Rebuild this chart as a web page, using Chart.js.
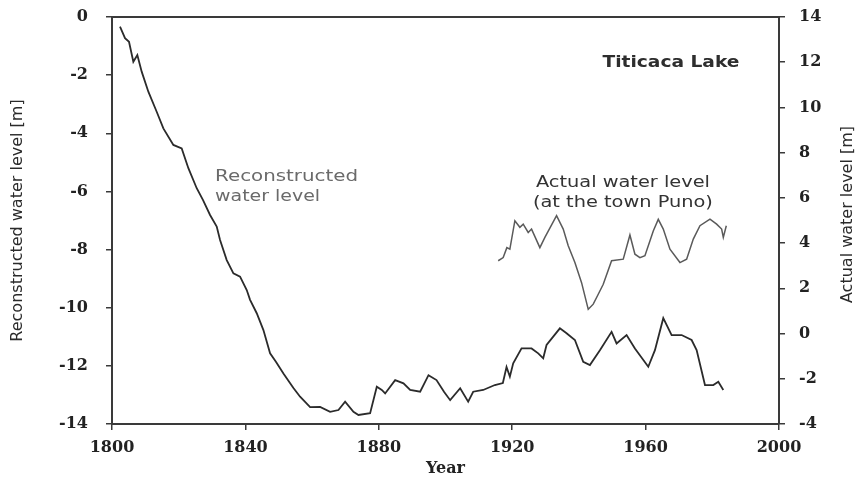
<!DOCTYPE html>
<html>
<head>
<meta charset="utf-8">
<script src="https://cdn.jsdelivr.net/npm/chart.js@4/dist/chart.umd.min.js"></script>
<style>
  html, body { margin: 0; padding: 0; background: #ffffff; }
  canvas { display: block; }
</style>
</head>
<body>
<canvas id="c" width="856" height="477"></canvas>
<script>
// ---- Data ----
const reconstructedYears = [
  1802.4, 1803.9, 1805.1, 1806.4, 1807.6, 1808.9, 1810.9, 1813.4, 1815.4, 1818.4,
  1820.9, 1822.9, 1825.4, 1827.3, 1829.4, 1831.4, 1832.4, 1834.4, 1836.4, 1838.4,
  1840.4, 1841.4, 1843.4, 1845.4, 1847.4, 1849.2, 1851.4, 1854.4, 1856.4, 1859.4,
  1862.4, 1865.4, 1867.9, 1869.9, 1872.4, 1873.9, 1877.4, 1879.4, 1880.9, 1881.9,
  1884.9, 1887.4, 1889.4, 1892.4, 1894.9, 1897.3, 1899.6, 1901.4, 1904.4, 1906.8,
  1908.3, 1911.3, 1914.8, 1917.2, 1918.3, 1919.3, 1920.3, 1922.8, 1925.8, 1927.8,
  1929.3, 1930.3, 1934.3, 1936.3, 1938.8, 1941.3, 1943.3, 1946.3, 1949.8, 1951.3,
  1954.3, 1956.8, 1960.8, 1962.8, 1965.3, 1967.8, 1970.8, 1973.8, 1975.3, 1977.8,
  1980.3, 1981.8, 1983.3
];
const reconstructedLevel = [
  -0.33, -0.73, -0.85, -1.54, -1.31, -1.88, -2.57, -3.26, -3.83, -4.40,
  -4.52, -5.20, -5.89, -6.30, -6.81, -7.21, -7.67, -8.36, -8.82, -8.93,
  -9.39, -9.73, -10.19, -10.77, -11.57, -11.87, -12.26, -12.76, -13.06, -13.42,
  -13.41, -13.58, -13.52, -13.23, -13.58, -13.69, -13.63, -12.72, -12.83, -12.95,
  -12.49, -12.60, -12.83, -12.89, -12.32, -12.49, -12.90, -13.18, -12.77, -13.23,
  -12.89, -12.83, -12.66, -12.59, -12.04, -12.37, -11.91, -11.40, -11.40, -11.57,
  -11.74, -11.28, -10.71, -10.88, -11.11, -11.86, -11.97, -11.46, -10.83, -11.23,
  -10.94, -11.40, -12.03, -11.46, -10.36, -10.94, -10.94, -11.11, -11.46, -12.66,
  -12.66, -12.55, -12.83
];
const actualYears = [
  1915.8, 1917.3, 1918.4, 1919.3, 1920.8, 1922.3, 1923.3, 1924.8, 1925.8, 1928.3,
  1929.8, 1933.3, 1935.3, 1936.8, 1938.8, 1940.8, 1942.8, 1944.3, 1945.8, 1947.3,
  1949.8, 1953.3, 1955.3, 1956.8, 1958.3, 1959.8, 1962.3, 1963.8, 1965.3, 1967.3,
  1970.3, 1972.3, 1974.3, 1976.3, 1979.3, 1981.3, 1982.8, 1983.3, 1984.2
];
const actualLevel = [
  3.22, 3.36, 3.80, 3.73, 4.99, 4.70, 4.84, 4.47, 4.62, 3.80,
  4.25, 5.21, 4.62, 3.88, 3.14, 2.25, 1.07, 1.30, 1.74, 2.18,
  3.22, 3.29, 4.36, 3.51, 3.36, 3.44, 4.54, 5.05, 4.62, 3.73,
  3.14, 3.29, 4.18, 4.77, 5.06, 4.84, 4.62, 4.25, 4.77
];
const xTicks = [1800, 1840, 1880, 1920, 1960, 2000];
const leftTicks = [0, -2, -4, -6, -8, -10, -12, -14];
const rightTicks = [14, 12, 10, 8, 6, 4, 2, 0, -2, -4];

const leftTitle = 'Reconstructed water level [m]';
const rightTitle = 'Actual water level [m]';
const xTitle = 'Year';
const plotLabel = 'Titicaca Lake';
const reconLabel = ['Reconstructed', 'water level'];
const actualLabel = ['Actual water level', '(at the town Puno)'];

// ---- Styles ----
const axisColor = '#3a3a3a';
const tickFont = { family: 'DejaVu Serif', size: 16, weight: 'bold' };
const tickColor = '#222222';

const reconPoints = reconstructedYears.map((x, i) => ({ x, y: reconstructedLevel[i] }));
const actualPoints = actualYears.map((x, i) => ({ x, y: actualLevel[i] }));

function stretchedText(ctx, text, x, y, align, targetWidth) {
  const w = ctx.measureText(text).width;
  const sx = targetWidth ? targetWidth / w : 1;
  ctx.save();
  ctx.translate(x, y);
  ctx.scale(sx, 1);
  ctx.textAlign = align;
  ctx.textBaseline = 'middle';
  ctx.fillText(text, 0, 0);
  ctx.restore();
}

const decorPlugin = {
  id: 'decor',
  afterDraw(chart) {
    const { ctx, chartArea, scales } = chart;
    const x = scales.x, y = scales.y;
    ctx.save();
    // top frame line
    ctx.strokeStyle = axisColor;
    ctx.lineWidth = 2;
    ctx.beginPath();
    ctx.moveTo(chartArea.left, chartArea.top);
    ctx.lineTo(chartArea.right, chartArea.top);
    ctx.stroke();

    // In-plot labels (positioned in data coordinates)
    ctx.fillStyle = '#2e2e2e';
    ctx.font = 'bold 16px "DejaVu Sans"';
    stretchedText(ctx, plotLabel, x.getPixelForValue(1967.6), y.getPixelForValue(-1.58), 'center', 137);

    ctx.fillStyle = '#6a6a6a';
    ctx.font = '16px "DejaVu Sans"';
    stretchedText(ctx, reconLabel[0], x.getPixelForValue(1830.9), y.getPixelForValue(-5.50), 'left', 143);
    stretchedText(ctx, reconLabel[1], x.getPixelForValue(1830.9), y.getPixelForValue(-6.19), 'left', 105);

    ctx.fillStyle = '#333333';
    stretchedText(ctx, actualLabel[0], x.getPixelForValue(1953.2), y.getPixelForValue(-5.71), 'center', 174);
    stretchedText(ctx, actualLabel[1], x.getPixelForValue(1953.2), y.getPixelForValue(-6.40), 'center', 180);

    // Axis titles (both read bottom-to-top)
    const midY = (chartArea.top + chartArea.bottom) / 2;
    ctx.fillStyle = '#2a2a2a';
    ctx.font = '16px "DejaVu Sans"';
    ctx.textAlign = 'center';
    ctx.textBaseline = 'middle';
    ctx.save();
    ctx.translate(18, midY);
    ctx.rotate(-Math.PI / 2);
    ctx.fillText(leftTitle, 0, 0);
    ctx.restore();
    ctx.save();
    ctx.translate(chart.width - 8, midY - 6);
    ctx.rotate(-Math.PI / 2);
    ctx.fillText(rightTitle, 0, 0);
    ctx.restore();
    ctx.restore();
  }
};

const commonGrid = {
  display: true,
  drawOnChartArea: false,
  drawTicks: true,
  tickLength: 6,
  color: axisColor,
  lineWidth: 1.5
};
const commonBorder = { display: true, color: axisColor, width: 2 };

new Chart(document.getElementById('c'), {
  type: 'line',
  data: {
    datasets: [
      {
        label: 'Reconstructed water level',
        data: reconPoints,
        yAxisID: 'y',
        borderColor: '#2b2b2b',
        borderWidth: 1.8,
        pointRadius: 0,
        tension: 0,
        fill: false
      },
      {
        label: 'Actual water level (at the town Puno)',
        data: actualPoints,
        yAxisID: 'y2',
        borderColor: '#5a5a5a',
        borderWidth: 1.5,
        pointRadius: 0,
        tension: 0,
        fill: false
      }
    ]
  },
  options: {
    responsive: false,
    animation: false,
    layout: { padding: { top: 17, left: 0, right: 0, bottom: 0 } },
    plugins: { legend: { display: false }, tooltip: { enabled: false } },
    scales: {
      x: {
        type: 'linear',
        min: xTicks[0],
        max: xTicks[xTicks.length - 1],
        afterBuildTicks: s => { s.ticks = xTicks.map(v => ({ value: v })); },
        ticks: { font: tickFont, color: tickColor, padding: 8, maxRotation: 0, callback: v => String(v) },
        grid: commonGrid,
        border: commonBorder,
        title: {
          display: true, text: xTitle, color: tickColor,
          font: { family: 'DejaVu Serif', size: 16, weight: 'bold', lineHeight: 1 },
          padding: { top: 0, bottom: 0 }
        },
        afterFit: s => { s.height = 53; s.paddingLeft = 0; s.paddingRight = 0; }
      },
      y: {
        position: 'left',
        min: -14,
        max: 0,
        afterBuildTicks: s => { s.ticks = leftTicks.map(v => ({ value: v })); },
        ticks: { font: tickFont, color: tickColor, padding: 18, callback: v => String(v) },
        grid: commonGrid,
        border: commonBorder,
        afterFit: s => { s.width = 112; s.paddingTop = 0; s.paddingBottom = 0; }
      },
      y2: {
        position: 'right',
        min: -4,
        max: 14,
        afterBuildTicks: s => { s.ticks = rightTicks.map(v => ({ value: v })); },
        ticks: { font: tickFont, color: tickColor, padding: 14, callback: v => String(v) },
        grid: commonGrid,
        border: commonBorder,
        afterFit: s => { s.width = 77; s.paddingTop = 0; s.paddingBottom = 0; }
      }
    }
  },
  plugins: [decorPlugin]
});
</script>
</body>
</html>
